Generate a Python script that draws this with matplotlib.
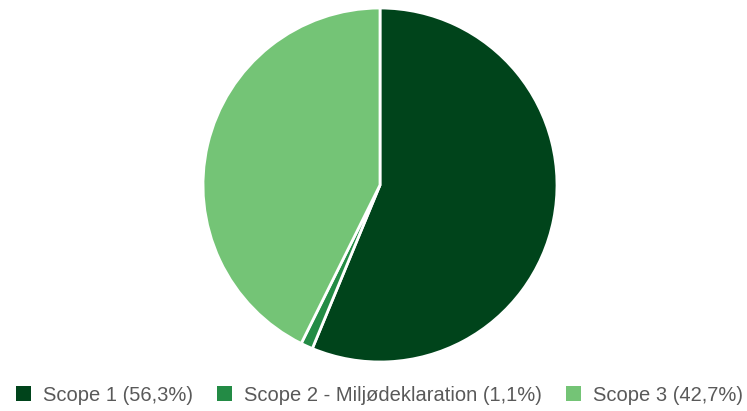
import matplotlib

matplotlib.use("Agg")
import matplotlib.pyplot as plt  # noqa: E402
from matplotlib.patches import Patch  # noqa: E402

labels = ["Scope 1 (56,3%)", "Scope 2 - Miljødeklaration (1,1%)", "Scope 3 (42,7%)"]
shares = [56.3, 1.1, 42.7]
colors = ["#00441b", "#238b45", "#74c476"]

plt.rcParams["font.family"] = ["Liberation Sans", "DejaVu Sans"]

fig = plt.figure(figsize=(7.47, 4.11), dpi=100)
# pie box in pixels: x 203..557, y 8..362
ax = fig.add_axes([203 / 747, 49 / 411, 354 / 747, 354 / 411])
wedges, _ = ax.pie(shares, colors=colors, startangle=90, counterclock=False,
                   wedgeprops={"edgecolor": "white", "linewidth": 2}, radius=1.0)
for w in wedges:
    w.set_clip_on(False)
ax.set_aspect("equal")
ax.set_xlim(-1.0, 1.0)
ax.set_ylim(-1.0, 1.0)

handles = [Patch(facecolor=c, edgecolor="none") for c in colors]
fig.legend(handles, labels, loc="center", bbox_to_anchor=(0.508, 16 / 411),
           ncol=3, frameon=False, fontsize=14.5, handlelength=0.75, handleheight=0.75,
           columnspacing=1.2, handletextpad=0.6, labelcolor="#595959",
           borderaxespad=0, borderpad=0)

fig.savefig("out.png", dpi=100)
